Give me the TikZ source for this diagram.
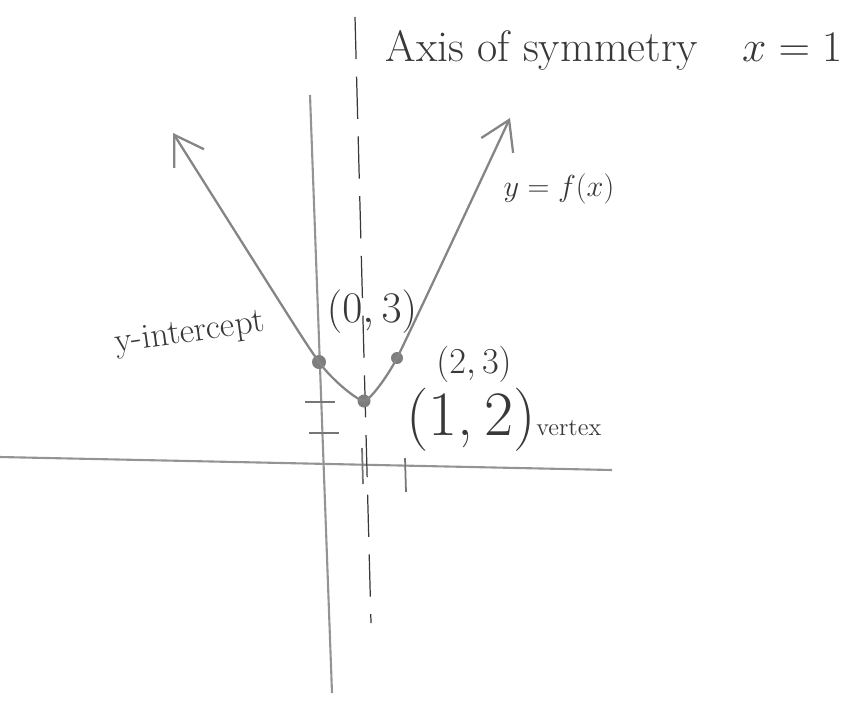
\documentclass[tikz,border=0pt]{standalone}
\usepackage{tikz}
\usetikzlibrary{arrows.meta,positioning}
\definecolor{pencil}{gray}{0.58}
\definecolor{ink}{gray}{0.22}
\newcommand{\graphpt}[3]{\node[circle,fill=pencil!85!black,inner sep=0pt,minimum size=#3] (#1) at (#2) {};}
\newcommand{\fs}[1]{\fontsize{#1}{#1}\selectfont}

\begin{document}
\begin{tikzpicture}[x=0.02cm,y=-0.02cm,font=\fs{22},
  axisline/.style={pencil,line width=1.2pt},
  curveline/.style={pencil!90!black,line width=1.3pt},
  handtext/.style={ink,inner sep=1pt},
  tickline/.style={pencil!80!black,line width=1pt}]
\useasboundingbox (0,0) rectangle (851,707);
\coordinate (xl) at (0,457); \coordinate (xr) at (612,470);
\coordinate (yt) at (310,95); \coordinate (yb) at (332,693);
\coordinate (st) at (355,17); \coordinate (sb) at (371,623);
\draw[axisline] (xl)--(xr);
\draw[axisline] (yt)--(yb);
\draw[ink,line width=0.7pt,dash pattern=on 24pt off 10pt] (st)--(sb);
\draw[tickline] (305,402)--(335,402);
\draw[tickline] (309,433)--(339,433);
\draw[tickline] (362,448)--(363,484);
\draw[tickline] (405,458)--(406,492);
\coordinate (ltip) at (173,133); \coordinate (rtip) at (510,118);
\graphpt{yint}{319,362}{0.28cm}
\graphpt{vtx}{364,401}{0.26cm}
\graphpt{pttwo}{397,358}{0.24cm}
\draw[curveline,{Straight Barb[length=16pt,width=20pt]}-{Straight Barb[length=16pt,width=20pt]}]
  plot[smooth,tension=0.25] coordinates {(ltip) (yint.center) (vtx.center) (pttwo.center) (rtip)};
\node[handtext,font=\fs{25}] (axlbl) at (614,50) {Axis of symmetry\quad $x=1$};
\node[handtext,font=\fs{18}] (fxlbl) at (559,189) {$y=f(x)$};
\node[handtext,font=\fs{20},rotate=8] (yilbl) at (190,334) {y-intercept};
\node[handtext,font=\fs{25}] (ptlbl) at (372,312) {$(0,3)$};
\node[handtext,font=\fs{20}] (twolbl) at (474,364) {$(2,3)$};
\node[handtext,font=\fs{36}] (vlbl) at (471,420) {(1,\,2)};
\node[handtext,font=\fs{14},anchor=base west,xshift=-2pt] (vxlbl) at (vlbl.base east) {vertex};
\end{tikzpicture}
\end{document}
